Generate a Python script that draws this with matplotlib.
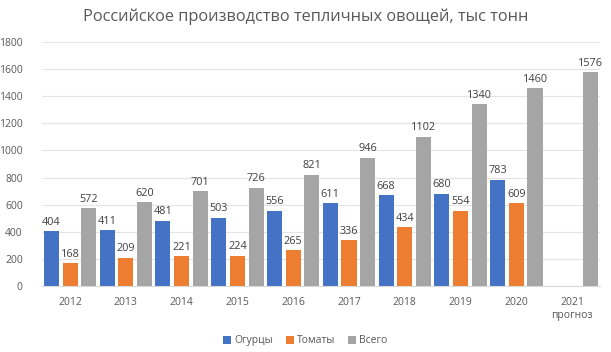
import matplotlib.pyplot as plt
import numpy as np

years = ["2012", "2013", "2014", "2015", "2016", "2017", "2018", "2019", "2020", "2021\nпрогноз"]
cucumbers = [404, 411, 481, 503, 556, 611, 668, 680, 783, None]
tomatoes = [168, 209, 221, 224, 265, 336, 434, 554, 609, None]
total = [572, 620, 701, 726, 821, 946, 1102, 1340, 1460, 1576]

series = [
    ("Огурцы", cucumbers, "#4472C4"),
    ("Томаты", tomatoes, "#ED7D31"),
    ("Всего", total, "#A5A5A5"),
]

text_color = "#595959"
plt.rcParams["font.family"] = ["Open Sans", "DejaVu Sans"]

fig = plt.figure(figsize=(6.11, 3.52), dpi=100)
ax = fig.add_axes([0.069, 0.1875, 0.913, 0.6935])

x = np.arange(len(years))
width = 0.27
step = 0.335
for i, (name, vals, color) in enumerate(series):
    xs = [xi + (i - 1) * step for xi, v in zip(x, vals) if v is not None]
    vs = [v for v in vals if v is not None]
    bars = ax.bar(xs, vs, width=width, color=color, label=name, zorder=2)
    for b, v in zip(bars, vs):
        ax.text(b.get_x() + b.get_width() / 2, v + 25, str(v), ha="center", va="bottom",
                fontsize=7.8, color="#404040")

ax.set_xlim(-0.5, len(years) - 0.5)
ax.set_ylim(0, 1800)
ax.set_yticks(range(0, 1801, 200))
ax.set_xticks(x)
ax.set_xticklabels(years)
ax.grid(axis="y", color="#E4E4E4", linewidth=0.8, zorder=0)
for s in ["top", "right", "left"]:
    ax.spines[s].set_visible(False)
ax.spines["bottom"].set_color("#D9D9D9")
ax.tick_params(axis="both", length=0, colors=text_color, labelsize=7.5)
ax.tick_params(axis="x", pad=8)
ax.tick_params(axis="y", pad=14)

fig.suptitle("Российское производство тепличных овощей, тыс тонн", y=0.975,
             fontsize=11.8, color=text_color)
fig.legend(loc="lower center", ncol=3, frameon=False, fontsize=7.5,
           bbox_to_anchor=(0.5, -0.01), handlelength=0.8, handleheight=0.8,
           handletextpad=0.3, columnspacing=1.2, labelcolor=text_color)

fig.savefig("out.png", dpi=100)
